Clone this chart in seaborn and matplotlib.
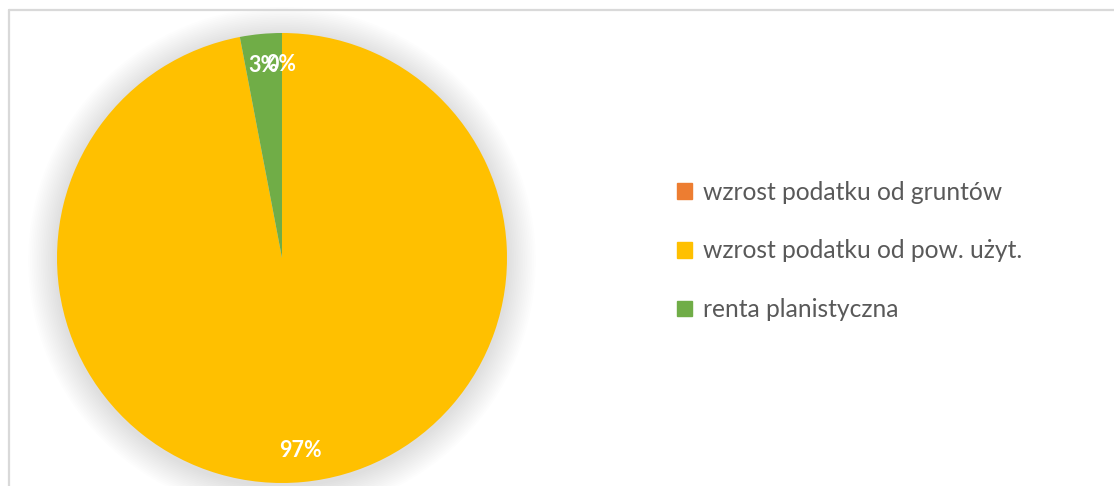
import numpy as np
import matplotlib.pyplot as plt
import matplotlib.patches as mpatches
from matplotlib.lines import Line2D
import seaborn as sns

# ---------- Data ----------
categories = ['wzrost podatku od gruntów', 'wzrost podatku od pow. użyt.', 'renta planistyczna']
shares = [0, 97, 3]
colors = ['#ED7D31', '#FFC000', '#70AD47']

sns.set_theme(style='white')
plt.rcParams['font.family'] = ['Lato', 'DejaVu Sans']

W, H = 1114, 486
fig = plt.figure(figsize=(W / 100, H / 100), dpi=100)
fig.patch.set_facecolor('white')

# chart border (left and top edges visible)
fig.add_artist(Line2D([9 / W, 9 / W], [0, 1 - 10 / H], transform=fig.transFigure,
                      color='#d9d9d9', lw=1.6))
fig.add_artist(Line2D([9 / W, 1], [1 - 10 / H, 1 - 10 / H], transform=fig.transFigure,
                      color='#d9d9d9', lw=1.6))

# ---------- Pie ----------
cx, cy, r = 282, 258, 225
lim = 1.2
side = 2 * lim * r
ax = fig.add_axes([(cx - side / 2) / W, (H - cy - side / 2) / H, side / W, side / H])

wedges, texts, autotexts = ax.pie(
    shares, colors=colors, startangle=90, counterclock=False, radius=1.0,
    autopct='%.0f%%', pctdistance=0.86,
    wedgeprops=dict(linewidth=0),
    textprops=dict(color='white', fontsize=15.5, fontweight='bold'))
for w in wedges:
    w.set_zorder(2)
for t in autotexts:
    t.set_zorder(3)

# soft shadow
for i in range(16):
    rad = 1.0 + 0.008 * (i + 1)
    ax.add_patch(mpatches.Circle((0.0, -0.012), rad, color='#000000', alpha=0.008, lw=0, zorder=0))

ax.set_xlim(-lim, lim)
ax.set_ylim(-lim, lim)
ax.axis('off')

# ---------- Legend ----------
handles = [mpatches.Patch(color=c, label=l) for c, l in zip(colors, categories)]
leg = fig.legend(handles=handles, loc='center left', bbox_to_anchor=(677 / W, 1 - 251 / H),
                 frameon=False, fontsize=17.7, handlelength=0.62, handleheight=0.62,
                 handletextpad=0.45, labelspacing=1.45, borderpad=0, borderaxespad=0)
for t in leg.get_texts():
    t.set_color('#595959')

fig.savefig('out.png', dpi=100, facecolor='white')
plt.close()
